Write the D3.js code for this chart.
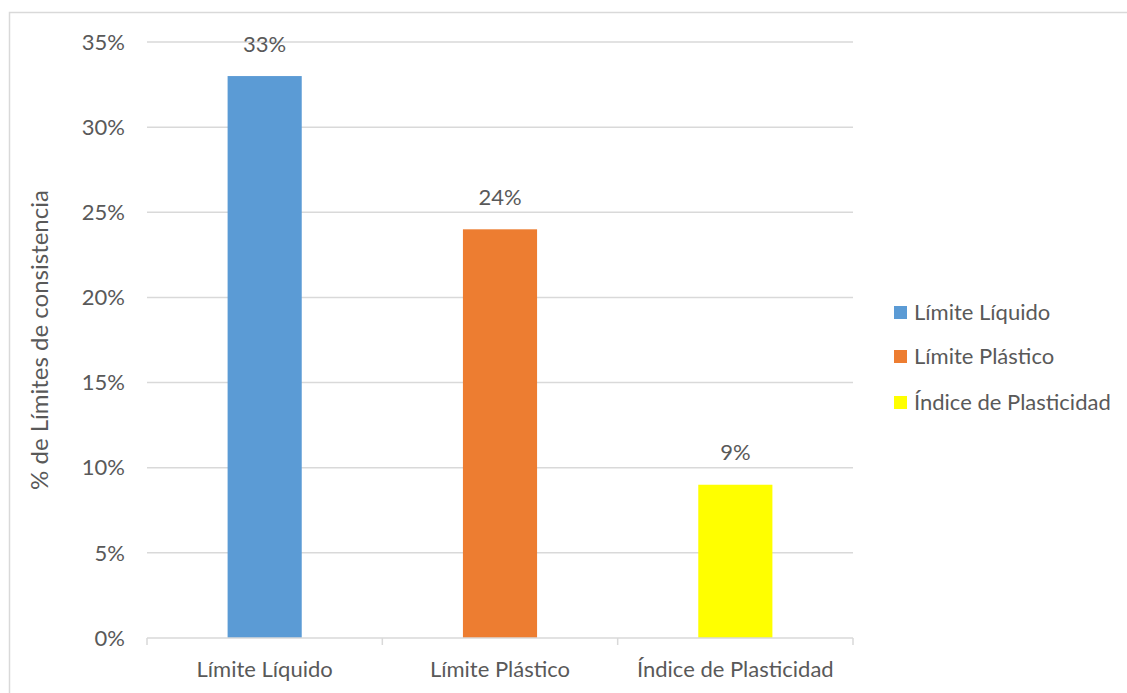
<!DOCTYPE html>
<html><head><meta charset="utf-8">
<script src="https://cdn.jsdelivr.net/npm/d3@7/dist/d3.min.js"></script>
<style>body{margin:0;background:#fff;}svg{display:block;}text{font-family:Lato,"Open Sans",sans-serif;fill:#595959;}</style>
</head><body><svg id="c" width="1127" height="693"></svg>
<script>
const categories = ["Límite Líquido","Límite Plástico","Índice de Plasticidad"];
const values = [0.33, 0.24, 0.09];
const colors = ["#5B9BD5","#ED7D31","#FFFF00"];
const yTicks = [0,0.05,0.10,0.15,0.20,0.25,0.30,0.35];
const yTitle = "% de Límites de consistencia";

const svg = d3.select("#c");
svg.append("rect").attr("x",9.5).attr("y",12.5).attr("width",1130).attr("height",700)
  .attr("fill","none").attr("stroke","#d9d9d9").attr("stroke-width",1.5);

const L=147,R=853,T=42,B=638;
const x = d3.scaleBand().domain(categories).range([L,R]).paddingInner(0.685).paddingOuter(0.3425);
const y = d3.scaleLinear().domain([0,0.35]).range([B,T]);
const FS = 22;

svg.append("g").selectAll("line").data(yTicks.filter(d=>d>0)).join("line")
  .attr("x1",L).attr("x2",R).attr("y1",d=>y(d)).attr("y2",d=>y(d))
  .attr("stroke","#d9d9d9").attr("stroke-width",1.5);

svg.append("g").selectAll("text").data(yTicks).join("text")
  .attr("x",125).attr("y",d=>y(d)).attr("dy","0.35em").attr("text-anchor","end")
  .attr("font-size",FS).text(d=>d3.format(".0%")(d));

// bars
svg.append("g").selectAll("rect").data(values).join("rect")
  .attr("x",(d,i)=>x(categories[i])).attr("width",x.bandwidth())
  .attr("y",d=>y(d)).attr("height",d=>B-y(d)).attr("fill",(d,i)=>colors[i]);

// data labels
svg.append("g").selectAll("text").data(values).join("text")
  .attr("x",(d,i)=>x(categories[i])+x.bandwidth()/2).attr("y",d=>y(d)-32)
  .attr("dy","0.35em").attr("text-anchor","middle").attr("font-size",FS)
  .text(d=>d3.format(".0%")(d));

// x axis
const step = (R-L)/categories.length;
svg.append("line").attr("x1",L).attr("x2",R).attr("y1",B).attr("y2",B)
  .attr("stroke","#d9d9d9").attr("stroke-width",1.5);
svg.append("g").selectAll("line").data(d3.range(categories.length+1)).join("line")
  .attr("x1",i=>L+i*step).attr("x2",i=>L+i*step).attr("y1",B).attr("y2",B+7)
  .attr("stroke","#d9d9d9").attr("stroke-width",1.5);
svg.append("g").selectAll("text").data(categories).join("text")
  .attr("x",d=>x(d)+x.bandwidth()/2).attr("y",669).attr("dy","0.35em")
  .attr("text-anchor","middle").attr("font-size",FS).text(d=>d);

// y title
svg.append("text").attr("transform","translate(40,340) rotate(-90)")
  .attr("text-anchor","middle").attr("dy","0.35em").attr("font-size",24).text(yTitle);

// legend
const lg = svg.append("g");
const ly = [312,356,402];
categories.forEach((c,i)=>{
  lg.append("rect").attr("x",894).attr("y",ly[i]-6).attr("width",13).attr("height",13).attr("fill",colors[i]);
  lg.append("text").attr("x",914).attr("y",ly[i]).attr("dy","0.35em").attr("font-size",FS).text(c);
});
</script></body></html>
